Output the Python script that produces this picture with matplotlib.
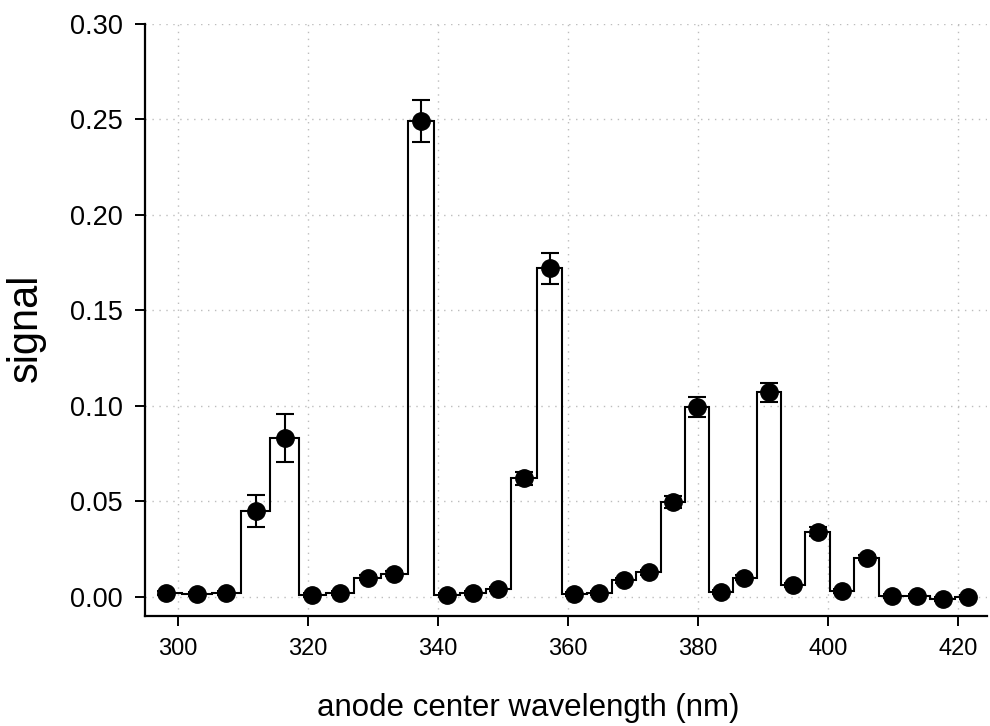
import matplotlib as mpl
import matplotlib.pyplot as plt
import numpy as np

# anode center wavelengths (nm), one per channel
wavelength = [298.3, 303.0, 307.5, 312.0, 316.5, 320.7, 325.0, 329.2, 333.3, 337.4,
              341.4, 345.4, 349.3, 353.2, 357.2, 361.0, 364.8, 368.6, 372.4, 376.1,
              379.8, 383.5, 387.1, 390.9, 394.6, 398.4, 402.1, 405.9, 409.8, 413.7,
              417.6, 421.5]
signal = [0.0020, 0.0015, 0.0020, 0.0450, 0.0830, 0.0010, 0.0020, 0.0100, 0.0120, 0.2490,
          0.0010, 0.0020, 0.0040, 0.0620, 0.1720, 0.0015, 0.0020, 0.0085, 0.0127, 0.0496,
          0.0996, 0.0024, 0.0100, 0.1070, 0.0060, 0.0340, 0.0030, 0.0205, 0.0002, 0.0003,
          -0.0014, 0.0000]
signal_err = [0.0010, 0.0010, 0.0010, 0.0085, 0.0126, 0.0010, 0.0010, 0.0012, 0.0013, 0.0110,
              0.0010, 0.0010, 0.0010, 0.0034, 0.0080, 0.0010, 0.0010, 0.0012, 0.0014, 0.0030,
              0.0052, 0.0010, 0.0012, 0.0052, 0.0010, 0.0024, 0.0010, 0.0015, 0.0010, 0.0010,
              0.0010, 0.0010]

x_ticks = [300, 320, 340, 360, 380, 400, 420]
y_ticks = [0.00, 0.05, 0.10, 0.15, 0.20, 0.25, 0.30]


def main() -> None:
    mpl.rcParams["font.family"] = ["Liberation Sans", "DejaVu Sans"]

    x = np.asarray(wavelength)
    y = np.asarray(signal)
    # channel borders halfway between neighbouring centers
    edges = np.concatenate([[x[0]], (x[:-1] + x[1:]) / 2, [x[-1]]])

    fig = plt.figure(figsize=(9.9, 7.26), dpi=100)
    ax = fig.add_axes([145 / 990, 1 - 616 / 726, (987 - 145) / 990, (616 - 24) / 726])

    ax.stairs(y, edges, baseline=None, color="black", linewidth=1.5, zorder=3)
    ax.errorbar(x, y, yerr=signal_err, fmt="o", color="black", markersize=12.5,
                elinewidth=1.5, capsize=6.5, capthick=1.5, zorder=4)

    ax.set_xlim(295.0, 424.4)
    ax.set_ylim(-0.0101, 0.30)
    ax.set_xticks(x_ticks)
    ax.set_yticks(y_ticks)
    ax.set_yticklabels([f"{v:.2f}" for v in y_ticks])
    ax.grid(True, color="#bdbdbd", linestyle=(0, (1, 4)), linewidth=1.0, zorder=0)

    for side in ("top", "right"):
        ax.spines[side].set_visible(False)
    for side in ("left", "bottom"):
        ax.spines[side].set_linewidth(1.6)
    ax.tick_params(axis="both", direction="out", length=7, width=1.4, color="black")
    ax.tick_params(axis="y", labelsize=19.5, pad=9)
    ax.tick_params(axis="x", labelsize=17, pad=9)

    ax.set_xlabel("anode center wavelength (nm)", fontsize=22.5)
    ax.xaxis.set_label_coords((528 - 145) / 842, (616 - 716) / 592)
    ax.xaxis.label.set_va("baseline")
    ax.set_ylabel("signal", fontsize=30)
    ax.yaxis.set_label_coords((26 - 145) / 842, (616 - 328) / 592)
    ax.yaxis.label.set_va("center")

    fig.savefig("out.png", dpi=100)
    plt.close(fig)


if __name__ == "__main__":
    main()
